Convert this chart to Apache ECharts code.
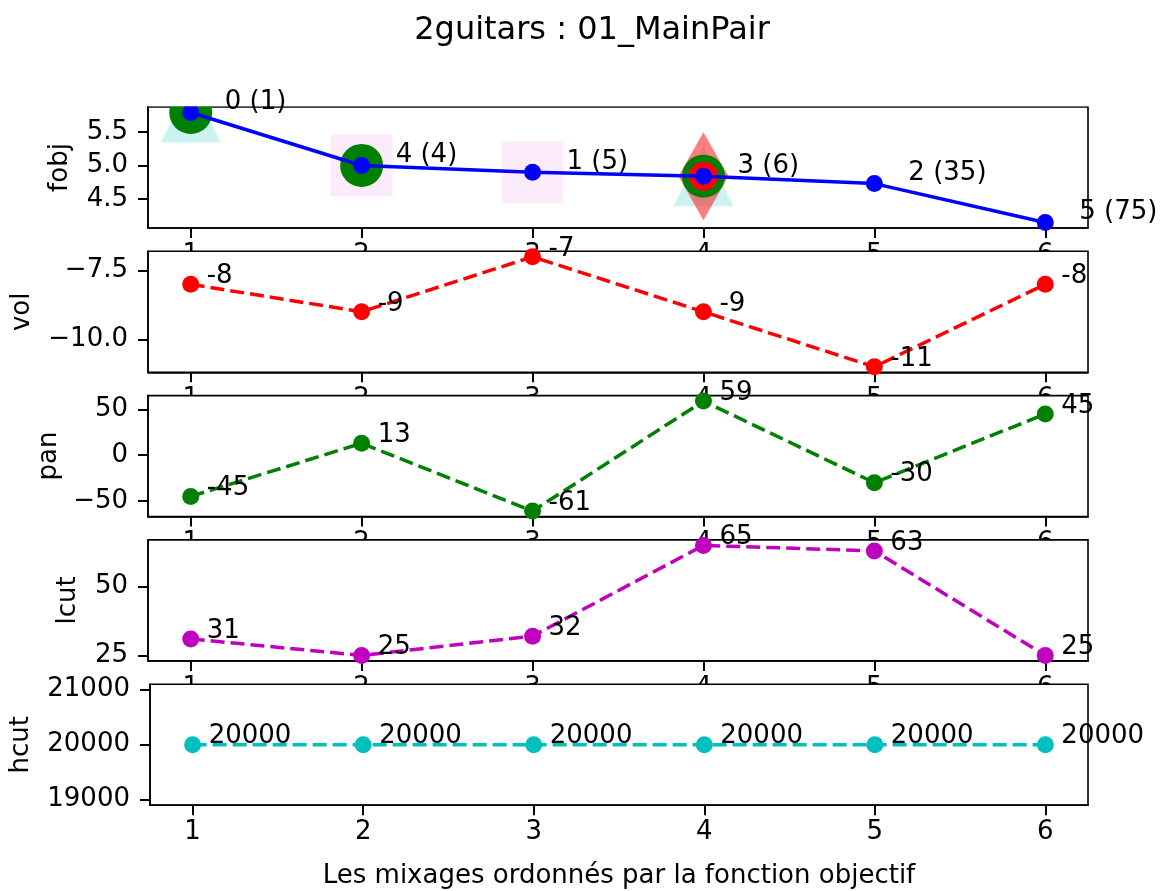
<!DOCTYPE html>
<html>
<head>
<meta charset="utf-8">
<script src="https://cdn.jsdelivr.net/npm/echarts@6/dist/echarts.min.js"></script>
<style>
  html, body { margin: 0; padding: 0; background: #fff; }
  #chart { width: 1160px; height: 891px; }
</style>
</head>
<body>
<div id="chart"></div>
<script>
const xs = [1, 2, 3, 4, 5, 6];
const fobj = [5.79, 5.0, 4.9, 4.84, 4.73, 4.15];
const fobjLabels = ['0 (1)', '4 (4)', '1 (5)', '3 (6)', '2 (35)', '5 (75)'];
const vol = [-8, -9, -7, -9, -11, -8];
const pan = [-45, 13, -61, 59, -30, 45];
const lcut = [31, 25, 32, 65, 63, 25];
const hcut = [20000, 20000, 20000, 20000, 20000, 20000];

const xTicks = [1, 2, 3, 4, 5, 6];
const fobjTicks = [4.5, 5.0, 5.5];
const volTicks = [-10.0, -7.5];
const panTicks = [-50, 0, 50];
const lcutTicks = [25, 50];
const hcutTicks = [19000, 20000, 21000];

// mixes highlighted on the fobj panel
const greenMarks = [1, 2, 4];
const cyanMarks = [1, 4];
const pinkMarks = [2, 3];
const redMarks = [4];

const FONT = 'DejaVu Sans';
const FS = 26;
const GRID_LEFT = 148;
const GRID_W = 940;
const GRID_H = 121;
const GRID_TOP0 = 107;
const GRID_STEP = 144.3;
const DOT = 17;

function pad(arr) {
  const lo = Math.min(...arr);
  const hi = Math.max(...arr);
  const m = (hi - lo) * 0.05;
  return [lo - m, hi + m];
}

function pts(values) {
  return xs.map((x, i) => [x, values[i]]);
}

function pick(marks) {
  return marks.map((x) => [x, fobj[xs.indexOf(x)]]);
}

const minus = (v, digits) => {
  const s = digits != null ? Math.abs(v).toFixed(digits) : String(Math.abs(v));
  return (v < 0 ? '\u2212' : '') + s;
};

const panels = [
  { name: 'fobj', data: fobj, ticks: fobjTicks, range: pad(fobj), digits: 1, nameGap: 75 },
  { name: 'vol', data: vol, ticks: volTicks, range: pad(vol), digits: 1, color: '#ff0000', nameGap: 113 },
  { name: 'pan', data: pan, ticks: panTicks, range: pad(pan), digits: null, color: '#008000', nameGap: 80 },
  { name: 'lcut', data: lcut, ticks: lcutTicks, range: pad(lcut), digits: null, color: '#bf00bf', nameGap: 67 },
  { name: 'hcut', data: hcut, ticks: hcutTicks, range: [18900, 21100], digits: null, color: '#00bfbf', nameGap: 116 },
];

const textStyle = { color: '#000', fontFamily: FONT, fontSize: FS };
const tickStyle = { color: '#000', width: 2 };

const grids = [];
const xAxes = [];
const yAxes = [];
const series = [];

panels.forEach((p, i) => {
  const z = i * 10;
  const last = i === panels.length - 1;
  grids.push({
    left: GRID_LEFT,
    width: GRID_W,
    top: GRID_TOP0 + i * GRID_STEP,
    height: GRID_H,
    show: true,
    backgroundColor: '#fff',
    borderColor: '#000',
    borderWidth: 1.6,
    z: z,
  });
  xAxes.push({
    gridIndex: i,
    type: 'value',
    min: 0.75,
    max: 6.25,
    z: z + 1,
    axisLine: { show: true, onZero: false, lineStyle: { color: '#000', width: 1.6 } },
    splitLine: { show: false },
    axisTick: { show: true, length: 10, customValues: xTicks, lineStyle: tickStyle },
    axisLabel: Object.assign({ customValues: xTicks, margin: 14 }, textStyle),
    name: last ? 'Les mixages ordonnés par la fonction objectif' : '',
    nameLocation: 'middle',
    nameGap: 58,
    nameTextStyle: textStyle,
  });
  yAxes.push({
    gridIndex: i,
    type: 'value',
    min: p.range[0],
    max: p.range[1],
    z: z + 1,
    axisLine: { show: true, onZero: false, lineStyle: { color: '#000', width: 1.6 } },
    splitLine: { show: false },
    axisTick: { show: true, length: 10, customValues: p.ticks, lineStyle: tickStyle },
    axisLabel: Object.assign({
      customValues: p.ticks,
      margin: 20,
      formatter: (v) => minus(v, p.digits),
    }, textStyle),
    name: p.name,
    nameLocation: 'middle',
    nameRotate: 90,
    nameGap: p.nameGap,
    nameTextStyle: textStyle,
  });

  if (i === 0) {
    const mk = (data, symbol, size, color, zz) => ({
      type: 'scatter',
      xAxisIndex: 0,
      yAxisIndex: 0,
      data,
      symbol,
      symbolSize: size,
      itemStyle: { color, opacity: 1 },
      silent: true,
      z: zz,
    });
    series.push(mk(pick(cyanMarks), 'triangle', 60, 'rgba(0,191,191,0.2)', 2));
    series.push(mk(pick(pinkMarks), 'rect', 62, 'rgba(204,0,204,0.08)', 2));
    series.push(mk(pick(redMarks), 'diamond', [50, 88], 'rgba(255,0,0,0.5)', 2));
    series.push(mk(pick(greenMarks), 'circle', 43, '#008000', 2));
    series.push(mk(pick(redMarks), 'circle', 29, '#ff0000', 2));
    series.push({
      type: 'line',
      xAxisIndex: 0,
      yAxisIndex: 0,
      data: pts(fobj),
      symbol: 'circle',
      symbolSize: DOT,
      showAllSymbol: true,
      itemStyle: { color: '#0000ff', opacity: 1 },
      lineStyle: { color: '#0000ff', width: 3.5 },
      silent: true,
      z: 3,
    });
    // text of each mix, kept above the top cover
    series.push({
      type: 'scatter',
      xAxisIndex: 0,
      yAxisIndex: 0,
      data: pts(fobj),
      symbolSize: DOT,
      itemStyle: { color: 'rgba(0,0,0,0)', opacity: 1 },
      silent: true,
      z: 5,
      label: Object.assign({
        show: true,
        position: [DOT / 2 + 34, DOT / 2 - 10],
        align: 'left',
        verticalAlign: 'middle',
        formatter: (q) => fobjLabels[q.dataIndex],
      }, textStyle),
    });
  } else {
    series.push({
      type: 'line',
      xAxisIndex: i,
      yAxisIndex: i,
      data: pts(p.data),
      symbol: 'circle',
      symbolSize: DOT,
      showAllSymbol: true,
      itemStyle: { color: p.color, opacity: 1 },
      lineStyle: { color: p.color, width: 3.5, type: [14, 6] },
      silent: true,
      z: z + 2,
      label: Object.assign({
        show: true,
        position: [DOT / 2 + 16, DOT / 2 - 8],
        align: 'left',
        verticalAlign: 'middle',
        formatter: (q) => String(q.value[1]),
      }, textStyle),
    });
  }
});

const chart = echarts.init(document.getElementById('chart'), null, { renderer: 'canvas' });
chart.setOption({
  animation: false,
  backgroundColor: '#fff',
  title: {
    text: '2guitars : 01_MainPair',
    left: 587,
    textAlign: 'center',
    top: 10,
    z: 100,
    textStyle: { color: '#000', fontFamily: FONT, fontSize: 32, fontWeight: 'normal' },
  },
  graphic: [
    {
      // clip the fobj markers at the top of their frame
      type: 'rect',
      z: 4,
      silent: true,
      shape: { x: GRID_LEFT, y: 0, width: GRID_W + 1, height: GRID_TOP0 - 0.8 },
      style: { fill: '#fff' },
    },
  ],
  grid: grids,
  xAxis: xAxes,
  yAxis: yAxes,
  series: series,
});
</script>
</body>
</html>
